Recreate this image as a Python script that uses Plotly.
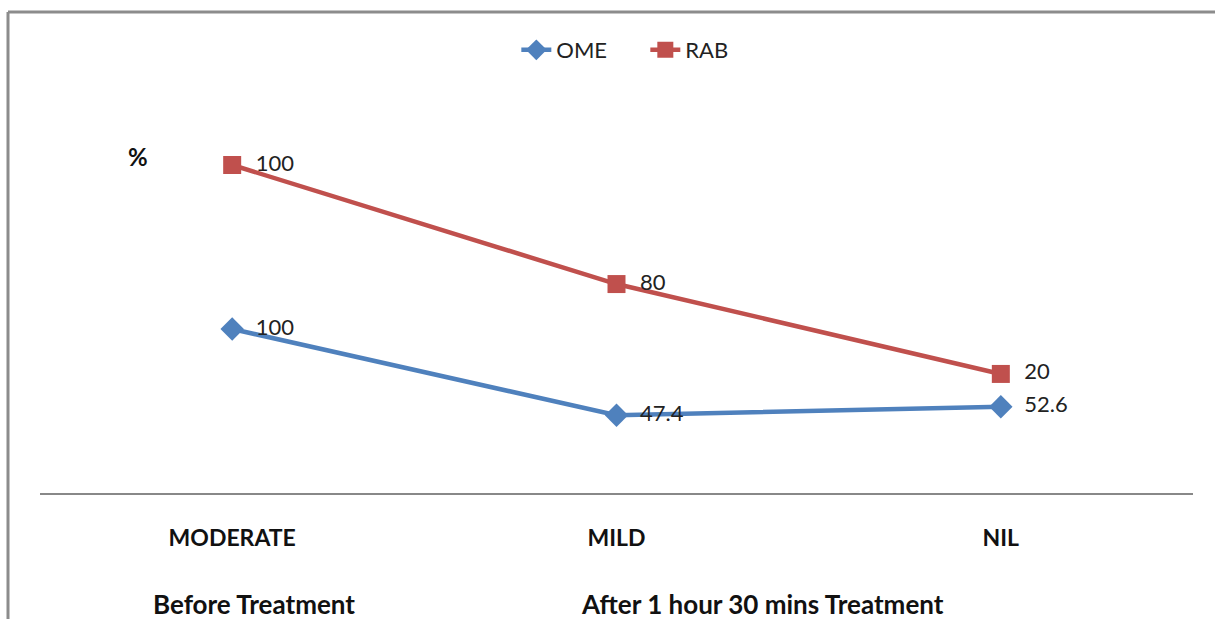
import plotly.graph_objects as go

categories = ["MODERATE", "MILD", "NIL"]
ome = [100, 47.4, 52.6]
rab = [100, 80, 20]
group_labels = ["Before Treatment", "After 1 hour 30 mins Treatment"]

FONT = "Lato, Open Sans, sans-serif"
W, H = 1215, 619
L, R, T, B = 40, 22, 12, 126
plot_w = W - L - R
plot_h = H - T - B

fig = go.Figure()
fig.add_trace(go.Scatter(
    x=categories, y=ome, name="OME", stackgroup="s", fill="none",
    mode="lines+markers+text", text=["  " + str(v) for v in ome],
    textposition="middle right", textfont=dict(size=22, color="#222", family=FONT),
    line=dict(color="#4F81BD", width=4.5),
    marker=dict(symbol="diamond", size=18, color="#4F81BD"),
))
fig.add_trace(go.Scatter(
    x=categories, y=rab, name="RAB", stackgroup="s", fill="none",
    mode="lines+markers+text", text=["  " + str(v) for v in rab],
    textposition="middle right", textfont=dict(size=22, color="#222", family=FONT),
    line=dict(color="#C0504D", width=4.5),
    marker=dict(symbol="square", size=18, color="#C0504D"),
))

fig.update_layout(
    width=W, height=H,
    margin=dict(l=L, r=R, t=T, b=B),
    paper_bgcolor="white", plot_bgcolor="white",
    font=dict(family=FONT, size=20, color="#222"),
    showlegend=True,
    legend=dict(orientation="h", x=0.525, xanchor="center", y=1 - (50 - T) / plot_h, yanchor="middle",
                font=dict(size=22, family=FONT), traceorder="normal", entrywidth=84),
    xaxis=dict(type="category", range=[-0.5, 2.5], showgrid=False, zeroline=False,
               showline=True, linecolor="#888", linewidth=1.5, ticks="",
               tickvals=categories, ticktext=[f"<b>{c}</b>" for c in categories],
               tickfont=dict(size=23, family=FONT, color="#111"), ticklabelstandoff=24,
               fixedrange=True),
    yaxis=dict(range=[0, plot_h / 1.64], visible=False, fixedrange=True),
)

def px_x(px):
    return (px - L) / plot_w

def px_y(py):
    return (H - B - py) / plot_h

# percent label
fig.add_annotation(text="<b>%</b>", x=px_x(138), y=px_y(157), xref="paper", yref="paper",
                   xanchor="center", yanchor="middle",
                   showarrow=False, font=dict(size=24, family=FONT, color="#111"))
# group labels
for lbl, cx in zip(group_labels, [254, 762]):
    fig.add_annotation(text="<b>" + lbl + "</b>", x=px_x(cx), y=px_y(604), xref="paper", yref="paper",
                       xanchor="center", yanchor="middle",
                       showarrow=False, font=dict(size=26, family=FONT, color="#111"))

# outer chart border (left and top)
fig.add_shape(type="line", xref="paper", yref="paper", x0=px_x(8), x1=px_x(8), y0=px_y(12), y1=px_y(640),
              line=dict(color="#8c8c8c", width=3))
fig.add_shape(type="line", xref="paper", yref="paper", x0=px_x(8), x1=px_x(1230), y0=px_y(12), y1=px_y(12),
              line=dict(color="#8c8c8c", width=3))

fig.write_html("out.html", config={"displayModeBar": False})
